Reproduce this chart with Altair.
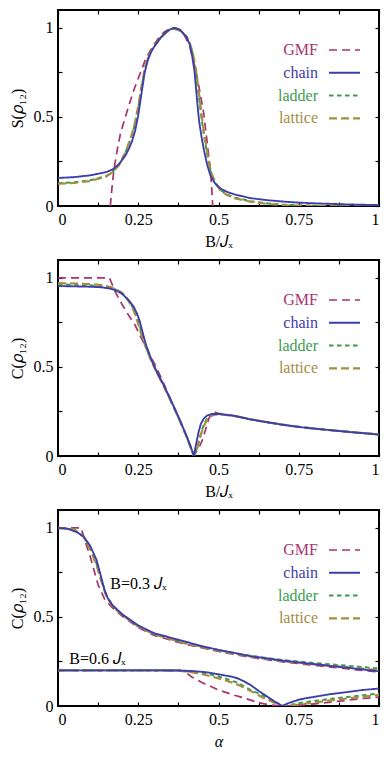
import altair as alt
import pandas as pd

SERIF = "Liberation Serif"
SERIES = ["GMF", "chain", "ladder", "lattice"]
COLORS = ["#a8336e", "#3e3eab", "#3d9c4f", "#a38f3f"]
DASHES = [[8, 5], [1, 0], [4.5, 3.5], [8, 4]]
WIDTHS = [1.7, 2.2, 1.7, 3.2]
DRAW_ORDER = ["GMF", "ladder", "lattice", "chain"]

X_TICKS = [0, 0.125, 0.25, 0.375, 0.5, 0.625, 0.75, 0.875, 1]
Y_TICKS = [0, 0.25, 0.5, 0.75, 1]

# ---------- panel 1: S(rho12) vs B/Jx ----------
p1_chain_x = [0, 0.05, 0.1, 0.15, 0.17, 0.19, 0.21, 0.22, 0.23, 0.24, 0.25, 0.26, 0.27, 0.28, 0.29, 0.30, 0.32, 0.34, 0.36, 0.38, 0.40, 0.41, 0.418, 0.425, 0.43, 0.435, 0.44, 0.447, 0.455, 0.465, 0.475, 0.49, 0.505, 0.525, 0.55, 0.6, 0.65, 0.7, 0.75, 0.8, 0.85, 0.9, 0.95, 1.0]
p1_chain_y = [0.157, 0.162, 0.172, 0.19, 0.205, 0.235, 0.283, 0.318, 0.36, 0.42, 0.51, 0.63, 0.75, 0.82, 0.865, 0.895, 0.945, 0.982, 1.0, 0.99, 0.95, 0.91, 0.84, 0.76, 0.66, 0.56, 0.47, 0.39, 0.31, 0.23, 0.17, 0.125, 0.1, 0.08, 0.065, 0.044, 0.033, 0.025, 0.019, 0.015, 0.012, 0.009, 0.007, 0.005]
p1_lat_x = [0, 0.05, 0.1, 0.15, 0.17, 0.19, 0.21, 0.23, 0.24, 0.25, 0.26, 0.27, 0.28, 0.29, 0.30, 0.32, 0.34, 0.36, 0.38, 0.40, 0.41, 0.42, 0.43, 0.44, 0.448, 0.455, 0.465, 0.475, 0.49, 0.505, 0.525, 0.55, 0.6, 0.65, 0.7, 0.75, 0.8, 0.9, 1.0]
p1_lattice_y = [0.125, 0.13, 0.14, 0.165, 0.19, 0.23, 0.3, 0.4, 0.47, 0.56, 0.67, 0.77, 0.83, 0.87, 0.9, 0.945, 0.978, 0.995, 0.985, 0.95, 0.915, 0.86, 0.76, 0.62, 0.5, 0.41, 0.3, 0.2, 0.13, 0.09, 0.063, 0.044, 0.024, 0.012, 0.005, 0.002, 0.0, 0.0, 0.0]
p1_ladder_y = [0.128, 0.133, 0.144, 0.168, 0.192, 0.232, 0.298, 0.395, 0.46, 0.55, 0.66, 0.765, 0.826, 0.868, 0.898, 0.945, 0.98, 0.997, 0.987, 0.95, 0.913, 0.855, 0.745, 0.6, 0.48, 0.395, 0.29, 0.195, 0.13, 0.092, 0.066, 0.047, 0.027, 0.015, 0.008, 0.004, 0.002, 0.001, 0.0]
p1_gmf_x = [0.163, 0.168, 0.174, 0.185, 0.195, 0.205, 0.22, 0.236, 0.255, 0.272, 0.29, 0.31, 0.33, 0.35, 0.36, 0.37, 0.39, 0.41, 0.428, 0.44, 0.454, 0.467, 0.475, 0.479, 0.482]
p1_gmf_y = [0.0, 0.1, 0.2, 0.32, 0.41, 0.47, 0.56, 0.65, 0.74, 0.82, 0.88, 0.935, 0.975, 0.997, 1.0, 0.997, 0.97, 0.9, 0.77, 0.66, 0.52, 0.32, 0.2, 0.1, 0.0]

# ---------- panel 2: C(rho12) vs B/Jx ----------
p2_chain_x = [0, 0.05, 0.1, 0.135, 0.16, 0.18, 0.2, 0.22, 0.235, 0.246, 0.255, 0.267, 0.275, 0.283, 0.293, 0.31, 0.33, 0.355, 0.38, 0.4, 0.415, 0.423, 0.43, 0.438, 0.445, 0.454, 0.465, 0.48, 0.5, 0.55, 0.6, 0.65, 0.7, 0.75, 0.8, 0.85, 0.9, 0.95, 1.0]
p2_chain_y = [0.954, 0.952, 0.95, 0.947, 0.94, 0.93, 0.91, 0.875, 0.84, 0.8, 0.755, 0.67, 0.62, 0.58, 0.53, 0.465, 0.395, 0.3, 0.2, 0.115, 0.045, 0.0, 0.065, 0.135, 0.18, 0.21, 0.228, 0.236, 0.236, 0.225, 0.205, 0.19, 0.175, 0.163, 0.153, 0.145, 0.136, 0.128, 0.12]
p2_lat_x = [0, 0.05, 0.1, 0.14, 0.17, 0.2, 0.22, 0.235, 0.245, 0.255, 0.265, 0.28, 0.293, 0.31, 0.33, 0.355, 0.38, 0.4, 0.415, 0.423, 0.435, 0.445, 0.455, 0.465, 0.48, 0.5, 0.55, 0.6, 0.65, 0.7, 0.75, 0.8, 0.85, 0.9, 0.95, 1.0]
p2_lattice_y = [0.97, 0.968, 0.965, 0.958, 0.945, 0.915, 0.87, 0.82, 0.77, 0.71, 0.65, 0.58, 0.525, 0.46, 0.39, 0.295, 0.195, 0.11, 0.042, 0.0, 0.05, 0.12, 0.17, 0.205, 0.228, 0.235, 0.225, 0.206, 0.19, 0.176, 0.164, 0.154, 0.145, 0.137, 0.129, 0.121]
p2_ladder_y = [0.963, 0.961, 0.958, 0.952, 0.942, 0.913, 0.872, 0.828, 0.78, 0.725, 0.66, 0.585, 0.528, 0.462, 0.392, 0.297, 0.197, 0.112, 0.043, 0.0, 0.055, 0.125, 0.18, 0.212, 0.232, 0.236, 0.225, 0.206, 0.19, 0.176, 0.164, 0.154, 0.145, 0.137, 0.129, 0.121]
p2_gmf_x = [0, 0.16, 0.18, 0.2, 0.22, 0.24, 0.26, 0.283, 0.3, 0.33, 0.355, 0.38, 0.4, 0.423, 0.44, 0.45, 0.46, 0.47, 0.48, 0.49, 0.5, 0.55, 0.6, 0.65, 0.7, 0.75, 0.8, 0.85, 0.9, 0.95, 1.0]
p2_gmf_y = [1.0, 1.0, 0.915, 0.85, 0.79, 0.735, 0.66, 0.58, 0.52, 0.405, 0.3, 0.2, 0.11, 0.0, 0.05, 0.09, 0.15, 0.21, 0.245, 0.245, 0.24, 0.226, 0.206, 0.19, 0.175, 0.163, 0.153, 0.144, 0.136, 0.128, 0.12]

# ---------- panel 3: C(rho12) vs alpha, B=0.3 Jx (upper) ----------
p3u_chain_x = [0, 0.03, 0.06, 0.08, 0.1, 0.12, 0.135, 0.145, 0.155, 0.17, 0.2, 0.25, 0.3, 0.375, 0.45, 0.5, 0.6, 0.7, 0.8, 0.9, 1.0]
p3u_chain_y = [1.0, 0.995, 0.975, 0.95, 0.9, 0.82, 0.72, 0.65, 0.605, 0.565, 0.515, 0.452, 0.408, 0.372, 0.335, 0.315, 0.28, 0.255, 0.235, 0.215, 0.195]
p3u_gmf_x = [0, 0.072, 0.08, 0.1, 0.125, 0.145, 0.17, 0.2, 0.25, 0.3, 0.4, 0.5, 0.6, 0.7, 0.8, 0.9, 1.0]
p3u_gmf_y = [1.0, 1.0, 0.95, 0.84, 0.68, 0.6, 0.55, 0.505, 0.44, 0.396, 0.345, 0.306, 0.273, 0.248, 0.228, 0.209, 0.19]
p3u_lat_x = [0, 0.05, 0.08, 0.1, 0.12, 0.135, 0.15, 0.17, 0.2, 0.25, 0.3, 0.4, 0.5, 0.6, 0.7, 0.8, 0.9, 1.0]
p3u_lattice_y = [1.0, 0.99, 0.95, 0.88, 0.79, 0.7, 0.62, 0.56, 0.51, 0.446, 0.402, 0.35, 0.31, 0.277, 0.252, 0.234, 0.218, 0.2]
p3u_ladder_y = [1.0, 0.99, 0.952, 0.89, 0.8, 0.71, 0.625, 0.563, 0.512, 0.448, 0.404, 0.352, 0.313, 0.281, 0.258, 0.241, 0.226, 0.21]

# ---------- panel 3: B=0.6 Jx (lower) ----------
p3l_chain_x = [0, 0.1, 0.2, 0.3, 0.38, 0.42, 0.46, 0.5, 0.54, 0.56, 0.58, 0.6, 0.625, 0.65, 0.675, 0.698, 0.72, 0.75, 0.77, 0.8, 0.843, 0.9, 0.95, 1.0]
p3l_chain_y = [0.2, 0.2, 0.2, 0.2, 0.199, 0.196, 0.19, 0.178, 0.165, 0.155, 0.138, 0.118, 0.085, 0.055, 0.025, 0.0, 0.018, 0.035, 0.043, 0.052, 0.065, 0.078, 0.09, 0.098]
p3l_ladder_x = [0, 0.1, 0.2, 0.3, 0.35, 0.4, 0.45, 0.48, 0.52, 0.56, 0.6, 0.635, 0.66, 0.69, 0.7, 0.72, 0.77, 0.85, 0.9, 0.95, 1.0]
p3l_ladder_y = [0.2, 0.2, 0.2, 0.2, 0.2, 0.195, 0.185, 0.175, 0.155, 0.13, 0.09, 0.062, 0.04, 0.01, 0.0, 0.005, 0.022, 0.04, 0.05, 0.06, 0.07]
p3l_lattice_x = [0, 0.1, 0.2, 0.3, 0.35, 0.38, 0.42, 0.45, 0.48, 0.52, 0.56, 0.6, 0.635, 0.66, 0.69, 0.7, 0.75, 0.8, 0.85, 0.9, 0.95, 1.0]
p3l_lattice_y = [0.2, 0.2, 0.2, 0.2, 0.2, 0.198, 0.188, 0.178, 0.165, 0.145, 0.12, 0.085, 0.05, 0.03, 0.005, 0.0, 0.008, 0.02, 0.032, 0.042, 0.052, 0.062]
p3l_gmf_x = [0, 0.1, 0.2, 0.3, 0.38, 0.4, 0.417, 0.45, 0.48, 0.5, 0.55, 0.583, 0.625, 0.66, 0.7, 0.75, 0.8, 0.85, 0.9, 0.95, 1.0]
p3l_gmf_y = [0.2, 0.2, 0.2, 0.2, 0.2, 0.185, 0.163, 0.13, 0.107, 0.09, 0.06, 0.043, 0.018, 0.006, 0.0, 0.004, 0.012, 0.022, 0.032, 0.042, 0.05]

ann_text = ["B=0.3 𝐽ₓ", "B=0.6 𝐽ₓ"]
ann_x = [0.163, 0.035]
ann_y = [0.655, 0.233]


def frame(xs, ys, series, group="a"):
    if len(xs) != len(ys):
        raise ValueError(f"length mismatch {series} {group}")
    return pd.DataFrame({"x": xs, "y": ys, "series": series, "group": group})


df1 = pd.concat([
    frame(p1_gmf_x, p1_gmf_y, "GMF"),
    frame(p1_chain_x, p1_chain_y, "chain"),
    frame(p1_lat_x, p1_ladder_y, "ladder"),
    frame(p1_lat_x, p1_lattice_y, "lattice"),
])
df2 = pd.concat([
    frame(p2_gmf_x, p2_gmf_y, "GMF"),
    frame(p2_chain_x, p2_chain_y, "chain"),
    frame(p2_lat_x, p2_ladder_y, "ladder"),
    frame(p2_lat_x, p2_lattice_y, "lattice"),
])
df3 = pd.concat([
    frame(p3u_gmf_x, p3u_gmf_y, "GMF", "u"),
    frame(p3u_chain_x, p3u_chain_y, "chain", "u"),
    frame(p3u_lat_x, p3u_ladder_y, "ladder", "u"),
    frame(p3u_lat_x, p3u_lattice_y, "lattice", "u"),
    frame(p3l_gmf_x, p3l_gmf_y, "GMF", "l"),
    frame(p3l_chain_x, p3l_chain_y, "chain", "l"),
    frame(p3l_ladder_x, p3l_ladder_y, "ladder", "l"),
    frame(p3l_lattice_x, p3l_lattice_y, "lattice", "l"),
])
ann_df = pd.DataFrame({"x": ann_x, "y": ann_y, "t": ann_text})

W, H = 321, 196
xscale = alt.Scale(domain=[0, 1], nice=False, zero=False)
yscale = alt.Scale(domain=[0, 1.1], nice=False)

label_color = ("datum.label === 'GMF' ? '%s' : datum.label === 'chain' ? '%s' : "
               "datum.label === 'ladder' ? '%s' : '%s'" % tuple(COLORS))
# legend sample line drawn to the right of its label via a custom symbol path
legend = alt.Legend(
    title=None, orient="none", legendX=244, legendY=32, padding=0,
    symbolType="M3.8,0H10", symbolSize=100, rowPadding=6.8,
    labelAlign="right", labelOffset=0,
    labelFont=SERIF, labelFontSize=16,
    labelColor=alt.ExprRef(label_color),
)


def x_axis(title, italic=False):
    kw = dict(orient="bottom", values=X_TICKS,
              labelExpr="(datum.value*4) % 1 == 0 ? format(datum.value, '~g') : ''",
              tickSize=4, offset=-4, domain=False, labelPadding=5,
              title=title, titlePadding=6)
    if italic:
        kw["titleFontStyle"] = "italic"
    return alt.Axis(**kw)


def y_axis(title):
    return alt.Axis(orient="left", values=Y_TICKS,
                    labelExpr="(datum.value*2) % 1 == 0 ? format(datum.value, '~g') : ''",
                    tickSize=4, offset=-4, domain=False, labelPadding=5,
                    title=title, titlePadding=8)


top_axis = alt.Axis(orient="top", values=X_TICKS, labels=False, tickSize=4,
                    offset=-4, domain=False, title=None)
right_axis = alt.Axis(orient="right", values=Y_TICKS, labels=False, tickSize=4,
                      offset=-4, domain=False, title=None)


def panel(df, xtitle, ytitle, italic=False, ann=None):
    xa, ya = x_axis(xtitle, italic), y_axis(ytitle)
    layers = []
    for s in DRAW_ORDER:
        layers.append(
            alt.Chart(df).transform_filter(alt.datum.series == s)
            .mark_line(clip=True, strokeCap="butt")
            .encode(
                x=alt.X("x:Q", scale=xscale, axis=xa),
                y=alt.Y("y:Q", scale=yscale, axis=ya),
                color=alt.Color("series:N", scale=alt.Scale(domain=SERIES, range=COLORS), legend=legend),
                strokeDash=alt.StrokeDash("series:N", scale=alt.Scale(domain=SERIES, range=DASHES), legend=legend),
                strokeWidth=alt.StrokeWidth("series:N", scale=alt.Scale(domain=SERIES, range=WIDTHS), legend=legend),
                detail="group:N",
            )
        )
    if ann is not None:
        layers.append(
            alt.Chart(ann).mark_text(align="left", baseline="alphabetic", font=SERIF,
                                     fontSize=16, color="black")
            .encode(x=alt.X("x:Q", scale=xscale, axis=xa),
                    y=alt.Y("y:Q", scale=yscale, axis=ya), text="t:N")
        )
    inner = alt.layer(*layers)
    dummy = alt.Chart(df).mark_line(opacity=0).encode(
        x=alt.X("x:Q", scale=xscale, axis=top_axis),
        y=alt.Y("y:Q", scale=yscale, axis=right_axis),
        detail="group:N",
    )
    return alt.layer(inner, dummy).resolve_axis(x="independent", y="independent").properties(width=W, height=H)


p1 = panel(df1, "B/𝐽ₓ", "S(𝜌₁₂)")
p2 = panel(df2, "B/𝐽ₓ", "C(𝜌₁₂)")
p3 = panel(df3, "α", "C(𝜌₁₂)", italic=True, ann=ann_df)

chart = (
    alt.vconcat(p1, p2, p3, spacing=8)
    .resolve_scale(color="independent", strokeDash="independent", strokeWidth="independent")
    .resolve_legend(color="independent", strokeDash="independent", strokeWidth="independent")
    .properties(padding={"left": 0, "top": 0, "right": 0, "bottom": 0})
    .configure_view(stroke="black", strokeWidth=2)
    .configure_axis(labelFont=SERIF, titleFont=SERIF, labelFontSize=16, titleFontSize=16,
                    titleFontWeight="normal", labelColor="black", titleColor="black",
                    tickColor="black", tickWidth=1.2, grid=False)
)

chart.save("out.html", embed_options={"renderer": "svg", "actions": False})
